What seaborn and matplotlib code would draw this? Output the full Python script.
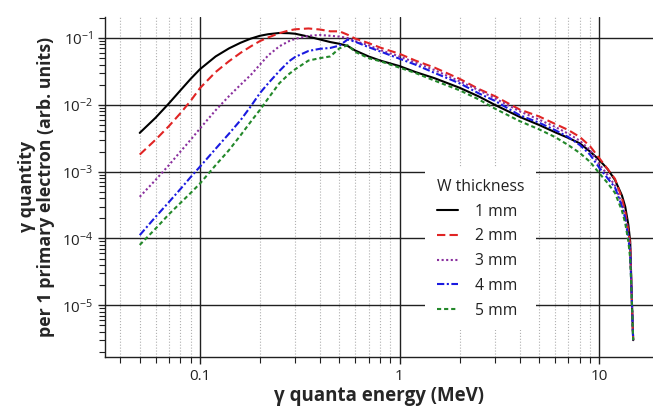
import numpy as np
import pandas as pd
import matplotlib
matplotlib.use("Agg")
import matplotlib.pyplot as plt
import seaborn as sns
from matplotlib.ticker import LogLocator, NullFormatter, FuncFormatter

# ---- data ----
energy = [0.05, 0.06, 0.07, 0.08, 0.09, 0.1, 0.12, 0.14, 0.16, 0.18, 0.2, 0.22,
          0.25, 0.28, 0.3, 0.35, 0.4, 0.45, 0.5, 0.55, 0.6, 0.7, 0.8, 1.0, 1.2,
          1.5, 2.0, 2.5, 3.0, 4.0, 5.0, 6.0, 7.0, 8.0, 9.0, 10.0, 11.0, 12.0,
          13.0, 13.5, 14.0, 14.3, 14.6, 14.8]

y_1mm = [3.8e-3, 6.4e-3, 0.0105, 0.0165, 0.0245, 0.034, 0.053, 0.070, 0.085, 0.098,
         0.108, 0.114, 0.119, 0.118, 0.116, 0.105, 0.095, 0.087, 0.082, 0.076,
         0.065, 0.053, 0.046, 0.038, 0.031, 0.025, 0.018, 0.0133, 0.0100, 6.6e-3,
         5.0e-3, 3.9e-3, 3.2e-3, 2.65e-3, 2.0e-3, 1.5e-3, 1.1e-3, 7.5e-4, 4.4e-4,
         3.0e-4, 1.6e-4, 9e-5, 1e-5, 3e-6]

y_2mm = [1.8e-3, 3.0e-3, 4.8e-3, 7.5e-3, 0.0115, 0.0177, 0.031, 0.045, 0.060, 0.075,
         0.090, 0.102, 0.118, 0.130, 0.135, 0.139, 0.134, 0.126, 0.126, 0.112,
         0.098, 0.084, 0.072, 0.058, 0.046, 0.036, 0.0245, 0.0172, 0.0135, 8.5e-3,
         6.7e-3, 5.2e-3, 4.2e-3, 3.3e-3, 2.4e-3, 1.6e-3, 1.1e-3, 7.8e-4, 4.0e-4,
         2.5e-4, 1.3e-4, 8e-5, 1e-5, 3e-6]

y_3mm = [4.2e-4, 7.5e-4, 1.25e-3, 2.0e-3, 3.0e-3, 4.4e-3, 8.3e-3, 0.0135, 0.020, 0.028,
         0.040, 0.055, 0.075, 0.090, 0.097, 0.108, 0.111, 0.108, 0.105, 0.100,
         0.090, 0.078, 0.066, 0.053, 0.043, 0.033, 0.0225, 0.0165, 0.0125, 8.0e-3,
         6.0e-3, 4.7e-3, 3.7e-3, 2.9e-3, 2.1e-3, 1.3e-3, 9e-4, 6.2e-4, 3.3e-4,
         2.2e-4, 1.1e-4, 7e-5, 1e-5, 3e-6]

y_4mm = [1.12e-4, 2.1e-4, 3.5e-4, 5.5e-4, 8.3e-4, 1.18e-3, 2.2e-3, 3.7e-3, 5.9e-3, 9.5e-3,
         0.0150, 0.021, 0.032, 0.045, 0.052, 0.064, 0.069, 0.071, 0.077, 0.095,
         0.088, 0.073, 0.063, 0.049, 0.040, 0.030, 0.021, 0.0148, 0.0115, 7.0e-3,
         5.4e-3, 4.2e-3, 3.3e-3, 2.5e-3, 1.8e-3, 1.15e-3, 8e-4, 5.8e-4, 3.0e-4,
         2.0e-4, 1.0e-4, 6e-5, 1e-5, 3e-6]

y_5mm = [8e-5, 1.4e-4, 2.3e-4, 3.4e-4, 4.8e-4, 6.6e-4, 1.25e-3, 2.1e-3, 3.5e-3, 5.6e-3,
         8.4e-3, 0.0125, 0.021, 0.029, 0.034, 0.046, 0.050, 0.053, 0.070, 0.078,
         0.062, 0.050, 0.045, 0.036, 0.030, 0.023, 0.0165, 0.012, 8.8e-3, 5.7e-3,
         4.3e-3, 3.3e-3, 2.5e-3, 1.9e-3, 1.4e-3, 9.5e-4, 6.8e-4, 4.8e-4, 2.6e-4,
         1.7e-4, 9e-5, 5e-5, 1e-5, 3e-6]

thickness_labels = ["1 mm", "2 mm", "3 mm", "4 mm", "5 mm"]
x_tick_values = [0.1, 1, 10]
y_tick_values = [1e-5, 1e-4, 1e-3, 1e-2, 1e-1]

series = [y_1mm, y_2mm, y_3mm, y_4mm, y_5mm]
df = pd.concat([pd.DataFrame({"E": energy, "Y": s, "W thickness": lab})
                for s, lab in zip(series, thickness_labels)], ignore_index=True)

# ---- style ----
sns.set_style("ticks")
plt.rcParams["font.family"] = ["Open Sans", "DejaVu Sans"]
plt.rcParams["mathtext.fontset"] = "custom"
plt.rcParams["mathtext.rm"] = "Open Sans"
plt.rcParams["mathtext.it"] = "Open Sans:italic"
plt.rcParams["mathtext.bf"] = "Open Sans:bold"

palette = dict(zip(thickness_labels, ["#000000", "#e02424", "#8a2f9e", "#1a1ae0", "#23882a"]))
dashes = dict(zip(thickness_labels, ["", (4, 2), (1, 1.2), (3.5, 1.2, 1, 1.2), (2, 1.4)]))

fig = plt.figure(figsize=(6.53, 4.08), dpi=100)
ax = fig.add_axes([105 / 653, 1 - 357 / 408, 548 / 653, 340.3 / 408])
ax.set_xscale("log")
ax.set_yscale("log")

sns.lineplot(data=df, x="E", y="Y", hue="W thickness", style="W thickness",
             palette=palette, dashes=dashes, estimator=None, sort=False,
             linewidth=1.5, ax=ax, zorder=3)

ax.set_xlim(0.0335, 18.6)
ax.set_ylim(1.68e-6, 0.2085)

ax.xaxis.set_minor_locator(LogLocator(base=10, subs=np.arange(2, 10), numticks=20))
ax.xaxis.set_minor_formatter(NullFormatter())
ax.set_xticks(x_tick_values)
ax.xaxis.set_major_formatter(FuncFormatter(lambda v, p: f"{v:g}"))
ax.set_yticks(y_tick_values)
ax.yaxis.set_minor_locator(LogLocator(base=10, subs=np.arange(2, 10), numticks=20))
ax.yaxis.set_minor_formatter(NullFormatter())

ax.grid(which="major", axis="both", color="#202020", linewidth=1.0, linestyle="-", zorder=1)
ax.grid(which="minor", axis="x", color="#b0b0b0", linewidth=0.8, linestyle=":", zorder=1)
ax.set_axisbelow(True)

for s in ["top", "right"]:
    ax.spines[s].set_visible(False)
for s in ["left", "bottom"]:
    ax.spines[s].set_color("#202020")
    ax.spines[s].set_linewidth(1.0)

ax.tick_params(which="major", direction="out", length=5, width=1.0, color="#202020",
               labelsize=11, labelcolor="#222222")
ax.tick_params(which="minor", direction="out", length=4, width=0.8, color="#202020")
ax.tick_params(axis="x", which="major", pad=4)

ax.set_xlabel("γ quanta energy (MeV)", fontsize=13.5, fontweight="bold", labelpad=1)
ax.set_ylabel("γ quantity\nper 1 primary electron (arb. units)", fontsize=12.8,
              fontweight="bold", labelpad=5, linespacing=1.05)

old = ax.get_legend()
handles = old.legend_handles
labels = [t.get_text() for t in old.get_texts()]
old.remove()
leg = ax.legend(handles, labels, title="W thickness", loc="upper left",
                bbox_to_anchor=(425 / 653, 1 - 167 / 408), bbox_transform=fig.transFigure,
                frameon=True, facecolor="white", edgecolor="none", framealpha=1.0,
                fancybox=False, fontsize=11.3, title_fontsize=11.3, handlelength=1.35,
                handletextpad=1.08, labelspacing=0.56, borderpad=0.75,
                borderaxespad=0, alignment="left")
leg.set_zorder(5)
for t in leg.get_texts():
    t.set_color("#222222")
leg.get_title().set_color("#222222")

fig.savefig("out.png", dpi=100)
